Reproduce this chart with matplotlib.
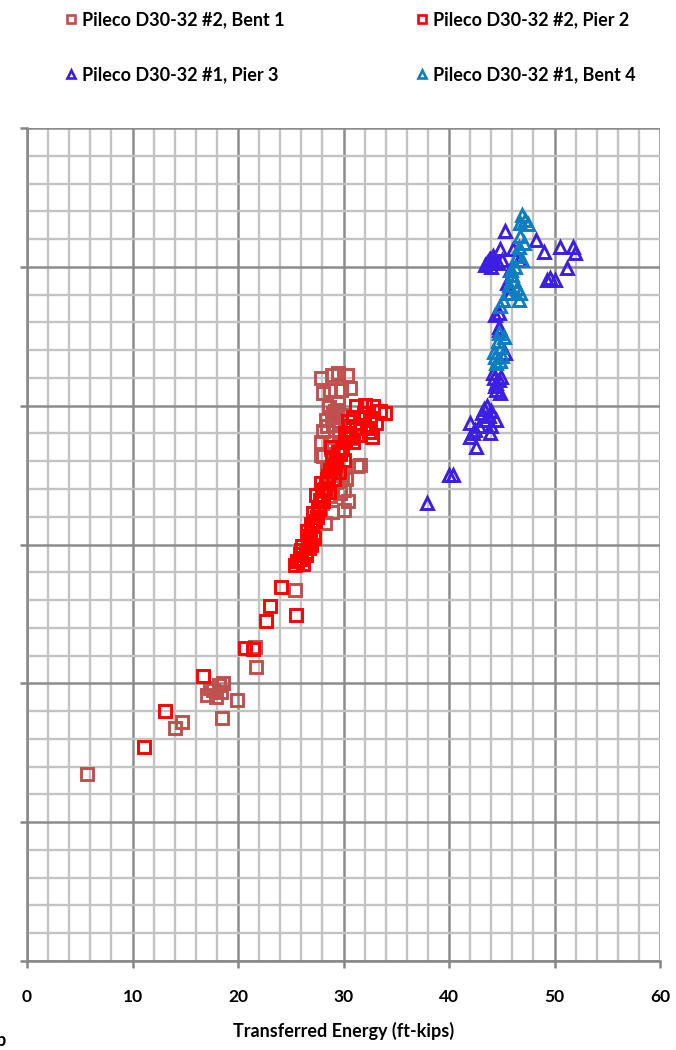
import matplotlib.pyplot as plt
from matplotlib.lines import Line2D
from matplotlib.ticker import MultipleLocator, NullFormatter

# Pileco D30-32 #2, Bent 1
bent1_x = [5.65, 14.0, 14.7, 18.45, 19.9, 17.1, 17.6, 18.2, 18.6, 17.3, 17.9, 18.4,
           21.7, 21.6, 25.4,
           28.1, 29.7, 31.6, 28.4, 29.7, 28.9, 27.9, 28.7, 29.4, 30.0, 28.2, 31.3, 30.0,
           27.9, 28.9, 29.5, 30.3, 28.7, 29.8, 30.6, 28.1,
           29.4, 28.9, 28.4, 28.1, 29.0, 29.7, 27.9, 28.7, 30.0, 30.8, 29.5, 29.0,
           28.6, 29.2, 28.3, 29.6, 28.8, 29.1, 29.9, 28.5, 29.3, 30.4, 28.0, 29.0,
           28.4, 29.8, 30.2, 28.7]
bent1_y = [2.70, 3.35, 3.45, 3.50, 3.76, 3.83, 3.90, 3.98, 4.01, 3.93, 3.80, 3.88,
           4.23, 4.53, 5.35,
           7.27, 7.36, 7.15, 6.93, 6.74, 6.47, 7.29, 7.07, 7.03, 6.50, 6.31, 7.13, 6.79,
           8.40, 8.44, 8.47, 8.44, 8.23, 8.23, 8.25, 8.18,
           7.94, 7.84, 7.70, 7.63, 7.72, 7.77, 7.48, 7.48, 7.48, 7.53, 8.04, 7.89,
           7.98, 7.92, 7.80, 7.60, 7.38, 7.20, 7.00, 6.85, 6.90, 6.62, 6.60, 7.40,
           7.12, 7.86, 6.95, 6.70]

# Pileco D30-32 #2, Pier 2
pier2_x = [11.1, 13.1, 16.65, 20.7, 21.4, 22.65, 23.0, 24.1, 25.5, 25.4,
           25.6, 25.9, 26.1, 26.4, 26.6, 26.8, 26.5, 27.0, 27.3, 27.1, 27.6, 27.8,
           27.4, 28.0, 28.3, 28.5, 28.7, 29.2, 28.9, 29.5, 29.9, 30.1, 30.4, 25.9,
           26.7, 27.2, 26.9, 27.7, 28.2, 28.4, 29.0, 29.3, 29.7,
           26.2, 26.0, 26.9, 27.5, 28.1, 28.6, 29.1, 29.6, 30.0, 27.9, 28.8, 26.4,
           31.2, 32.0, 32.8, 33.5, 33.9, 30.9, 31.7, 32.5, 33.1, 30.5, 31.2, 32.2,
           30.6, 31.6, 32.7, 30.1, 30.9, 31.9, 32.4, 30.4]
pier2_y = [3.09, 3.60, 4.10, 4.51, 4.50, 4.90, 5.11, 5.39, 4.99, 5.71,
           5.76, 5.86, 5.98, 5.89, 6.05, 6.12, 6.20, 6.27, 6.34, 6.45, 6.54, 6.64,
           6.71, 6.79, 6.89, 6.98, 7.07, 7.15, 7.26, 7.33, 7.37, 7.48, 7.56, 5.79,
           5.95, 6.09, 6.30, 6.51, 6.80, 6.94, 7.10, 7.20, 7.30,
           5.72, 5.92, 6.00, 6.40, 6.62, 6.75, 6.95, 7.05, 7.22, 6.88, 7.40, 5.85,
           7.99, 8.01, 7.99, 7.92, 7.90, 7.84, 7.82, 7.80, 7.75, 7.70, 7.68, 7.68,
           7.55, 7.58, 7.55, 7.60, 7.48, 7.90, 7.62, 7.78]

# Pileco D30-32 #1, Pier 3
pier3_x = [37.9, 40.0, 40.4, 42.0, 42.0, 42.6, 43.1, 43.6, 44.0, 43.4, 44.0, 43.9,
           42.8, 42.3, 44.5, 44.2, 44.5, 44.8, 44.7, 44.4, 44.7, 45.3,
           45.3, 44.8, 43.9, 43.4, 44.3, 46.1, 46.6, 48.2, 49.0, 50.5, 51.8, 51.9,
           51.2, 49.6, 50.0, 49.3, 45.8, 45.5, 45.8, 44.7, 44.4, 44.7,
           43.6, 44.0, 44.6, 43.8, 44.2, 45.0, 43.3, 43.8, 42.5, 44.3, 44.9, 44.5]
pier3_y = [6.60, 7.00, 7.00, 7.75, 7.55, 7.41, 7.89, 7.99, 7.92, 7.80, 7.70, 7.60,
           7.70, 7.60, 7.80, 8.47, 8.32, 8.18, 8.37, 8.28, 9.09, 8.76,
           10.51, 10.25, 10.12, 10.03, 10.07, 10.25, 10.10, 10.39, 10.22, 10.29, 10.29, 10.20,
           9.98, 9.84, 9.81, 9.81, 9.96, 9.77, 9.62, 9.33, 9.31, 9.14,
           10.05, 10.00, 10.05, 10.10, 10.15, 10.10, 7.95, 7.85, 7.65, 8.40, 8.42, 8.22]

# Pileco D30-32 #1, Bent 4
bent4_x = [44.3, 44.6, 44.9, 45.2, 44.8, 44.5,
           46.9, 47.2, 46.7, 47.5, 46.7, 46.6, 46.4, 46.3, 46.0, 45.7, 45.5, 45.1,
           44.8, 46.6, 46.7, 46.4, 46.9, 47.1,
           44.4, 45.0, 44.7, 46.2, 45.9]
bent4_y = [8.78, 8.93, 8.85, 8.99, 8.64, 8.62,
           10.75, 10.68, 10.63, 10.61, 10.44, 10.29, 10.15, 10.00, 9.88, 9.74, 9.62, 9.52,
           9.43, 9.52, 9.62, 9.69, 10.10, 10.34,
           8.70, 8.72, 9.05, 9.80, 9.95]

series = [
    ("Pileco D30-32 #2, Bent 1", bent1_x, bent1_y, "s", "#C0504D"),
    ("Pileco D30-32 #2, Pier 2", pier2_x, pier2_y, "s", "#FF0000"),
    ("Pileco D30-32 #1, Pier 3", pier3_x, pier3_y, "^", "#3C1EE4"),
    ("Pileco D30-32 #1, Bent 4", bent4_x, bent4_y, "^", "#0F7DC2"),
]

plt.rcParams["font.family"] = ["Lato", "DejaVu Sans"]

fig = plt.figure(figsize=(6.76, 10.5), dpi=100)
ax = fig.add_axes([27 / 676, 1 - 961 / 1050, 633 / 676, 833 / 1050])

handles = []
for label, xs, ys, mk, col in series:
    ms = 8.3 if mk == "s" else 9
    ax.plot(xs, ys, linestyle="none", marker=mk, markersize=ms, markerfacecolor="none",
            markeredgecolor=col, markeredgewidth=2.1, zorder=3)
    handles.append(Line2D([], [], linestyle="none", marker=mk, markersize=6,
                          markerfacecolor="none", markeredgecolor=col,
                          markeredgewidth=1.9, label=label))

ax.set_xlim(0, 60)
ax.set_ylim(0, 12)
ax.xaxis.set_major_locator(MultipleLocator(10))
ax.xaxis.set_minor_locator(MultipleLocator(2))
ax.yaxis.set_major_locator(MultipleLocator(2))
ax.yaxis.set_minor_locator(MultipleLocator(0.4))
ax.yaxis.set_major_formatter(NullFormatter())

ax.grid(which="minor", color="#C3C3C3", linewidth=1.7)
ax.grid(which="major", color="#8C8C8C", linewidth=1.8)
ax.set_axisbelow(True)

for side in ["top", "right"]:
    ax.spines[side].set_visible(False)
for side in ["left", "bottom"]:
    ax.spines[side].set_color("#868686")
    ax.spines[side].set_linewidth(1.8)

ax.tick_params(which="minor", length=0)
ax.tick_params(which="major", length=5, width=1.8, color="#868686")
ax.tick_params(axis="x", which="major", pad=15, labelsize=12.5)
for t in ax.get_xticklabels():
    t.set_fontweight("bold")

ax.set_xlabel("Transferred Energy (ft-kips)", fontsize=13, fontweight="bold", labelpad=12)

order = [0, 2, 1, 3]
fig.legend([handles[i] for i in order], [handles[i].get_label() for i in order],
           ncol=2, loc="upper left", bbox_to_anchor=(55 / 676, 1.0), frameon=False,
           prop={"size": 13, "weight": "bold"}, handlelength=0.6, handletextpad=0.3,
           labelspacing=2.15, columnspacing=7.3, borderaxespad=0.2)

fig.text(-0.006, 0.004, "b", fontsize=13, fontweight="bold")

fig.savefig("out.png", dpi=100)
